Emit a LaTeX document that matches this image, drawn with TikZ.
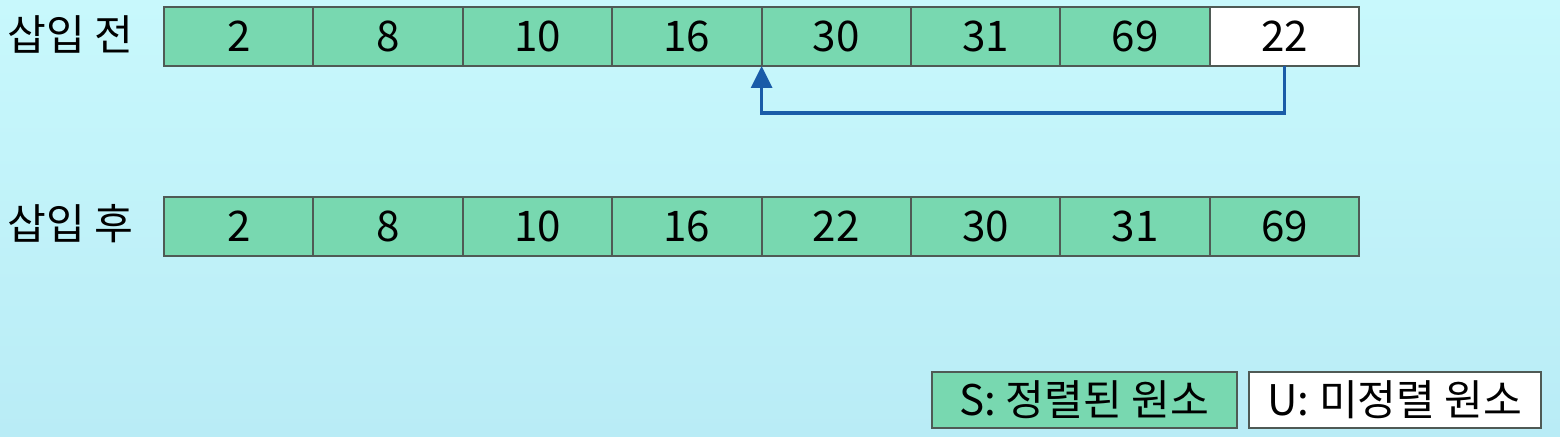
\documentclass[tikz,border=0pt]{standalone}
\usepackage{fontspec}
\setmainfont{Noto Sans CJK KR}
\usetikzlibrary{arrows.meta}
\definecolor{sortgreen}{HTML}{78D8B0}
\definecolor{cellline}{HTML}{4F5A55}
\definecolor{movearrow}{HTML}{1A5CA8}
\definecolor{bgtop}{HTML}{C8F8FC}
\definecolor{bgbottom}{HTML}{B9ECF6}

\begin{document}
\begin{tikzpicture}[x=1cm,y=1cm]

      \shade[top color=bgtop,bottom color=bgbottom] (0,0) rectangle (15.6,4.37);
      \useasboundingbox (0,0) rectangle (15.6,4.37);

      \begin{scope}[every node/.style={font=\fontsize{12}{14}\selectfont, anchor=west, inner sep=0pt}]
        \node (prelabel)  at (0.07,4.03) {삽입 전};
        \node (postlabel) at (0.07,2.13) {삽입 후};
      \end{scope}

      \begin{scope}[every node/.style={draw=cellline, line width=0.6pt, fill=sortgreen,
          minimum width=1.494cm, minimum height=0.59cm, inner sep=0pt, outer sep=0pt,
          font=\fontsize{12}{14}\selectfont}]
        % before insertion
        \node (pre1) at (2.387,4.005) {2};
        \node (pre2) at (3.881,4.005) {8};
        \node (pre3) at (5.375,4.005) {10};
        \node (pre4) at (6.869,4.005) {16};
        \node (pre5) at (8.363,4.005) {30};
        \node (pre6) at (9.857,4.005) {31};
        \node (pre7) at (11.351,4.005) {69};
        \node[fill=white] (pre8) at (12.845,4.005) {22};
        % after insertion
        \node (post1) at (2.387,2.105) {2};
        \node (post2) at (3.881,2.105) {8};
        \node (post3) at (5.375,2.105) {10};
        \node (post4) at (6.869,2.105) {16};
        \node (post5) at (8.363,2.105) {22};
        \node (post6) at (9.857,2.105) {30};
        \node (post7) at (11.351,2.105) {31};
        \node (post8) at (12.845,2.105) {69};
      \end{scope}

      \begin{scope}[every path/.style={draw=movearrow, line width=0.9pt}]
        \path[-{Triangle[width=2.1mm,length=2.2mm]}] (pre8.south) -- ++(0,-0.47) -| (pre5.south west);
      \end{scope}

      \begin{scope}[every node/.style={draw=cellline, line width=0.8pt, minimum height=0.56cm,
          inner sep=0pt, font=\fontsize{12}{14}\selectfont}]
        \node[fill=sortgreen, minimum width=3.05cm] (sorted) at (10.845,0.37) {S: 정렬된 원소};
        \node[fill=white, minimum width=2.92cm] (unsorted) at (13.95,0.37) {U: 미정렬 원소};
      \end{scope}

    \end{tikzpicture}
\end{document}
